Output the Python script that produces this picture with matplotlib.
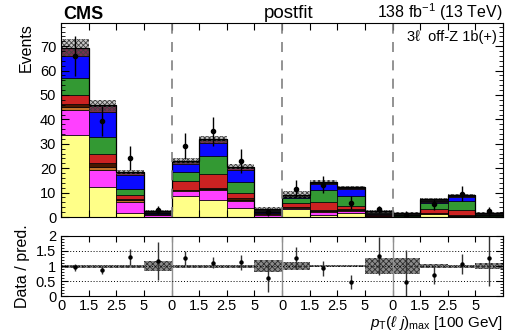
import numpy as np
import matplotlib
matplotlib.use("Agg")
import matplotlib.pyplot as plt
from matplotlib.ticker import MultipleLocator

plt.rcParams['font.family'] = ['Liberation Sans', 'DejaVu Sans']
plt.rcParams['mathtext.fontset'] = 'custom'
plt.rcParams['mathtext.rm'] = 'Liberation Sans'
plt.rcParams['mathtext.it'] = 'Liberation Sans:italic'
plt.rcParams['mathtext.fallback'] = 'stixsans'
plt.rcParams['hatch.linewidth'] = 0.6

# 16 bins: 4 sub-ranges of pT(l j)_max, each with edges 0, 1.5, 2.5, 5 (x100 GeV)
tick_labels = ['0', '1.5', '2.5', '5'] * 4

# Post-fit background stack (bottom to top)
proc_names = ['ttlnu', 'ttH', 'tHq', 'tttt', 'tllq', 'ttll', 'conv', 'nonprompt']
proc_colors = ['#ffff88', '#ff40ff', '#c07028', '#4a1800', '#cc2222',
               '#339933', '#0a0aff', '#7a3050']
ttlnu = [33.5, 12.2, 1.8, 0.1, 8.6, 7.0, 3.8, 0.1, 3.4, 1.0, 1.5, 0.1, 0.1, 1.1, 0.0, 0.1]
ttH = [10.3, 7.0, 4.5, 0.7, 2.0, 4.1, 2.7, 0.8, 0.2, 1.2, 1.1, 0.2, 0.1, 0.3, 0.5, 0.1]
tHq = [1.3, 1.4, 0.6, 0.1, 0.3, 0.5, 0.5, 0.15, 0.35, 0.25, 0.25, 0.1, 0.1, 0.15, 0.1, 0.1]
tttt = [1.2, 1.4, 0.6, 0.1, 0.3, 0.4, 0.6, 0.15, 0.35, 0.25, 0.25, 0.1, 0.1, 0.15, 0.1, 0.1]
tllq = [3.7, 3.8, 1.5, 0.2, 3.5, 5.6, 2.4, 0.3, 1.4, 3.6, 1.5, 0.2, 0.2, 1.4, 2.2, 0.2]
ttll = [7.0, 6.8, 2.5, 0.15, 3.8, 7.4, 4.5, 0.2, 2.0, 4.7, 4.0, 0.2, 0.1, 2.5, 3.8, 0.2]
conv = [8.8, 10.6, 5.7, 0.15, 3.1, 5.2, 4.7, 0.2, 0.4, 2.5, 2.7, 0.1, 0.1, 0.7, 1.6, 0.1]
nonprompt = [3.3, 2.2, 1.0, 0.1, 1.0, 1.3, 1.0, 0.1, 0.3, 0.4, 0.4, 0.1, 0.1, 0.2, 0.2, 0.1]
other = [0.3, 0.3, 0.3, 0.9, 0.3, 0.3, 0.3, 1.4, 0.8, 0.6, 0.7, 1.3, 0.6, 0.9, 0.4, 0.8]

# Relative post-fit uncertainty of the total prediction
rel_unc = [0.05, 0.05, 0.05, 0.18, 0.05, 0.05, 0.05, 0.20,
           0.14, 0.04, 0.04, 0.25, 0.25, 0.07, 0.05, 0.10]

# Observed data and its uncertainty
data = [66.0, 39.3, 24.0, 2.9, 29.0, 35.2, 22.9, 2.0,
        11.6, 13.3, 5.9, 3.2, 0.7, 5.2, 9.5, 2.3]
data_err = [8.1, 6.3, 4.9, 1.6, 5.4, 5.9, 4.8, 1.6,
            3.4, 3.6, 2.8, 1.5, 1.6, 2.3, 3.1, 1.7]

stack = [ttlnu, ttH, tHq, tttt, tllq, ttll, conv, nonprompt, other]
colors = proc_colors + ['#111111']

nb = len(data)
x = np.arange(nb) + 0.5
edges = np.arange(nb + 1)

fig = plt.figure(figsize=(5.06, 3.33), dpi=100)
ax = fig.add_axes([0.1206, 0.3483, 0.8735, 0.5826])
rx = fig.add_axes([0.1206, 0.1111, 0.8735, 0.1802])

bottom = np.zeros(nb)
for vals, col in zip(stack, colors):
    vals = np.asarray(vals)
    ax.bar(x, vals, width=1.0, bottom=bottom, color=col,
           edgecolor='black', linewidth=0.5)
    bottom = bottom + vals
pred = bottom
unc = np.asarray(rel_unc) * pred


def step_ext(v):
    v = np.asarray(v, dtype=float)
    return np.append(v, v[-1])


# Uncertainty band on the total prediction
ax.fill_between(edges, step_ext(pred), step_ext(pred + unc), step='post',
                facecolor='#c8c8c8', edgecolor='#404040', hatch='xxxxxxx',
                linewidth=0)
ax.fill_between(edges, step_ext(pred - unc), step_ext(pred), step='post',
                facecolor='none', edgecolor='#404040', hatch='xxxxxxx',
                linewidth=0)
ax.stairs(pred, edges, color='black', linewidth=0.9)

ax.errorbar(x, data, yerr=data_err, fmt='o', color='black',
            markersize=3.0, elinewidth=1.0, capsize=0)

for b in (4, 8, 12):
    ax.axvline(b, color='#808080', linestyle=(0, (6, 5)), linewidth=1.2)
    rx.axvline(b, color='#909090', linewidth=1.0)

ax.set_xlim(0, nb)
ax.set_ylim(0, 79.5)
ax.yaxis.set_major_locator(MultipleLocator(10))
ax.yaxis.set_minor_locator(MultipleLocator(2))
ax.set_xticks(edges)
ax.set_xticklabels([])
ax.tick_params(axis='both', which='both', direction='in', top=True, right=True,
               labelsize=10.5)
ax.tick_params(axis='y', which='major', length=6)
ax.tick_params(axis='y', which='minor', length=3)
ax.tick_params(axis='x', which='major', length=5)
ax.set_ylabel('Events', fontsize=11.5, loc='top')

ax.text(0.005, 1.022, 'CMS', transform=ax.transAxes, fontsize=13,
        fontweight='bold', ha='left', va='baseline')
ax.text(0.515, 1.027, 'postfit', transform=ax.transAxes, fontsize=13.5,
        ha='center', va='baseline')
ax.text(1.0, 1.025, r'138 fb$^{-1}$ (13 TeV)', transform=ax.transAxes,
        fontsize=11.5, ha='right', va='baseline')
ax.text(0.985, 0.965, '3\u2113  off-Z 1b(+)', transform=ax.transAxes,
        fontsize=10.5, ha='right', va='top')

# Ratio panel
ratio = np.asarray(data) / pred
ratio_err = np.asarray(data_err) / pred
rel = np.asarray(rel_unc)
rx.fill_between(edges, step_ext(1 - rel), step_ext(1 + rel), step='post',
                facecolor='#8c8c8c', edgecolor='#303030', hatch='xxxxxx',
                linewidth=0)
for yv in (0.5, 1.0, 1.5):
    rx.axhline(yv, color='black', linestyle=(0, (1, 2)), linewidth=0.7)
rx.errorbar(x, ratio, yerr=ratio_err, fmt='o', color='black', ecolor='#333333',
            markersize=2.2, elinewidth=1.0, capsize=0)
rx.set_xlim(0, nb)
rx.set_ylim(0, 2)
rx.set_yticks([0, 0.5, 1, 1.5, 2])
rx.set_yticklabels(['0', '0.5', '1', '1.5', '2'])
rx.yaxis.set_minor_locator(MultipleLocator(0.1))
rx.set_xticks(edges)
rx.set_xticklabels(tick_labels + [''])
rx.tick_params(axis='both', which='both', direction='in', top=True, right=True,
               labelsize=10.5)
rx.tick_params(axis='x', which='major', length=4, pad=2)
rx.tick_params(axis='y', which='major', length=5)
rx.tick_params(axis='y', which='minor', length=2.5)
rx.set_ylabel('Data / pred.', fontsize=11.5)
rx.set_xlabel(r'$p_{\mathrm{T}}(\ell\ j)_{\mathrm{max}}$ [100 GeV]',
              fontsize=11, loc='right', labelpad=1)

fig.savefig('out.png', dpi=100)
